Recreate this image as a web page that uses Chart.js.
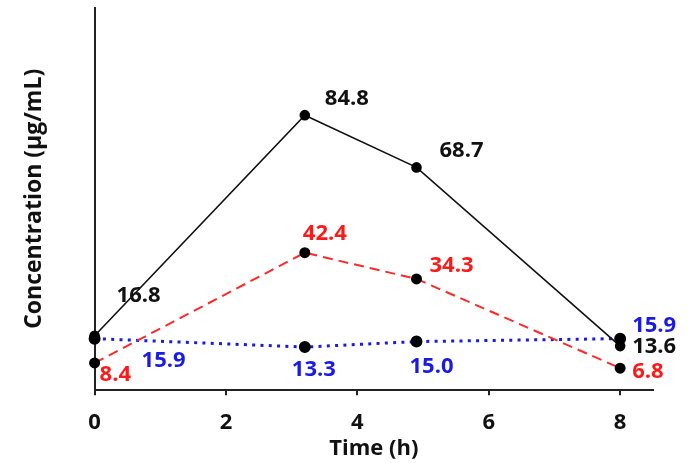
<!DOCTYPE html>
<html>
<head>
<meta charset="utf-8">
<script src="https://cdn.jsdelivr.net/npm/chart.js@4"></script>
<style>
  html, body { margin: 0; padding: 0; background: #ffffff; }
  #wrap { width: 692px; height: 463px; }
</style>
</head>
<body>
<div id="wrap"><canvas id="c" width="692" height="463"></canvas></div>
<script>
// ---- data ----
const times = [0, 3.2, 4.9, 8];
const seriesBlack = [16.8, 84.8, 68.7, 13.6];
const seriesRed = [8.4, 42.4, 34.3, 6.8];
const seriesBlue = [15.9, 13.3, 15.0, 15.9];
const xTicks = [0, 2, 4, 6, 8];
const xTitle = 'Time (h)';
const yTitle = 'Concentration (\u03bcg/mL)';

// ---- label placement (style only) ----
const labelOffsets = [
  [[22, -40], [20, -16], [23, -17], [12, 1]],
  [[5, 12], [-2, -19], [13, -13], [12, 4]],
  [[47, 22], [-13, 23], [-7, 25], [12, -13]]
];
const labelColors = ['#111111', '#ff1a1a', '#1a1ae6'];

const FONT = '"Open Sans", "Liberation Sans", sans-serif';

const pts = (vals) => vals.map((v, i) => ({ x: times[i], y: v }));

const valueLabels = {
  id: 'valueLabels',
  afterDatasetsDraw(chart) {
    const ctx = chart.ctx;
    ctx.save();
    ctx.font = 'bold 22px ' + FONT;
    ctx.textAlign = 'left';
    ctx.textBaseline = 'middle';
    chart.data.datasets.forEach((ds, di) => {
      const meta = chart.getDatasetMeta(di);
      meta.data.forEach((el, i) => {
        const off = labelOffsets[di][i];
        ctx.fillStyle = labelColors[di];
        ctx.fillText(ds.data[i].y.toFixed(1), el.x + off[0], el.y + off[1]);
      });
    });
    ctx.restore();
  }
};

new Chart(document.getElementById('c'), {
  type: 'line',
  data: {
    datasets: [
      {
        data: pts(seriesBlack),
        borderColor: '#111111',
        borderWidth: 1.6,
        pointRadius: 4.5,
        pointBackgroundColor: '#000',
        pointBorderColor: '#000',
        tension: 0,
        clip: false
      },
      {
        data: pts(seriesRed),
        borderColor: '#ff2a2a',
        borderWidth: 2,
        borderDash: [10, 6],
        pointRadius: 4.5,
        pointBackgroundColor: '#000',
        pointBorderColor: '#000',
        tension: 0,
        clip: false
      },
      {
        data: pts(seriesBlue),
        borderColor: '#1a1ae6',
        borderWidth: 3,
        borderDash: [3, 5.3],
        pointRadius: 4.5,
        pointBackgroundColor: '#000',
        pointBorderColor: '#000',
        tension: 0,
        clip: false
      }
    ]
  },
  options: {
    responsive: false,
    animation: false,
    layout: { padding: { left: 0, right: 39, top: -4, bottom: 0 } },
    plugins: { legend: { display: false }, tooltip: { enabled: false } },
    scales: {
      x: {
        type: 'linear',
        min: 0,
        max: 8.5,
        afterBuildTicks: (axis) => { axis.ticks = xTicks.map(v => ({ value: v })); },
        ticks: {
          includeBounds: false,
          color: '#111',
          font: { family: FONT, size: 22, weight: 'bold', lineHeight: 1.2 },
          padding: 14,
          maxRotation: 0
        },
        grid: { display: true, drawOnChartArea: false, drawTicks: true, tickLength: 5, color: '#222', lineWidth: 2 },
        border: { display: true, color: '#222', width: 2 },
        title: {
          display: true,
          text: xTitle,
          color: '#111',
          font: { family: FONT, size: 22, weight: 'bold', lineHeight: 1.2 },
          padding: { top: -14, bottom: 1 }
        }
      },
      y: {
        min: 0,
        max: 118,
        ticks: { display: false },
        grid: { display: false, drawTicks: false },
        border: { display: true, color: '#222', width: 2 },
        title: {
          display: true,
          text: yTitle,
          color: '#111',
          font: { family: FONT, size: 23, weight: 'bold', lineHeight: 1.2 },
          padding: { top: 21, bottom: 46 }
        }
      }
    }
  },
  plugins: [valueLabels]
});
</script>
</body>
</html>
